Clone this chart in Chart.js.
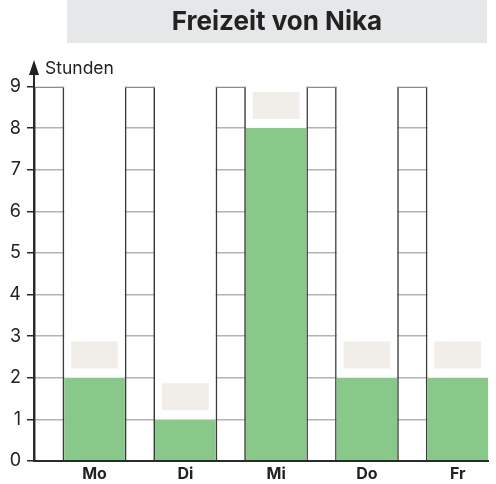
<!DOCTYPE html>
<html>
<head>
<meta charset="utf-8">
<script src="https://cdn.jsdelivr.net/npm/chart.js@4/dist/chart.umd.min.js"></script>
<style>
  html, body { margin: 0; padding: 0; background: #ffffff; }
  #wrap { width: 496px; height: 484px; }
</style>
</head>
<body>
<div id="wrap"><canvas id="c" width="496" height="484"></canvas></div>
<script>
const TITLE = 'Freizeit von Nika';
const Y_LABEL = 'Stunden';
const DAYS = ['Mo', 'Di', 'Mi', 'Do', 'Fr'];
const HOURS = [2, 1, 8, 2, 2];
const Y_TICKS = [0, 1, 2, 3, 4, 5, 6, 7, 8, 9];

const FONT = 'Inter, "Noto Sans", sans-serif';
const TOP = Y_TICKS[Y_TICKS.length - 1];

const decor = {
  id: 'decor',
  beforeDraw(chart) {
    const ctx = chart.ctx;
    ctx.save();
    ctx.fillStyle = '#ffffff';
    ctx.fillRect(0, 0, chart.width, chart.height);
    ctx.fillStyle = '#e6e7e9';
    ctx.fillRect(67, 0, 420, 43);
    ctx.fillStyle = '#222222';
    ctx.font = 'bold 26px ' + FONT;
    ctx.textAlign = 'center';
    ctx.textBaseline = 'middle';
    ctx.fillText(TITLE, 277, 22);
    ctx.restore();
  },
  afterDraw(chart) {
    const ctx = chart.ctx;
    const ys = chart.scales.y;
    const ax = ys.right;
    const top = chart.chartArea.top;
    ctx.save();
    ctx.fillStyle = '#222222';
    ctx.beginPath();
    ctx.moveTo(ax, top - 14);
    ctx.lineTo(ax - 5, top + 1);
    ctx.lineTo(ax + 5, top + 1);
    ctx.closePath();
    ctx.fill();
    ctx.font = '17.5px ' + FONT;
    ctx.textAlign = 'left';
    ctx.textBaseline = 'middle';
    ctx.fillText(Y_LABEL, ax + 11, top - 5);
    ctx.restore();
  }
};

const common = { grouped: false, categoryPercentage: 1 };

const data = {
  datasets: [
    Object.assign({
      label: 'bg',
      data: DAYS.map((d, i) => ({ x: i, y: TOP })),
      backgroundColor: '#ffffff',
      borderWidth: 0,
      barPercentage: 4 / 3,
      order: 5
    }, common),
    Object.assign({
      label: 'Stunden',
      data: HOURS.map((v, i) => ({ x: i, y: v })),
      backgroundColor: '#88c98a',
      borderWidth: 0,
      barPercentage: 4 / 3,
      order: 4
    }, common),
    Object.assign({
      label: 'boxes',
      data: HOURS.map((v, i) => ({ x: i, y: [v + 0.22, v + 0.87] })),
      backgroundColor: '#f1eee9',
      borderWidth: 0,
      barPercentage: 1.03,
      order: 3
    }, common),
    Object.assign({
      label: 'gapSides',
      data: DAYS.map((d, i) => ({ x: i - 0.5, y: TOP })),
      backgroundColor: 'rgba(0,0,0,0)',
      borderColor: '#3a3a3a',
      borderWidth: { left: 1.5, right: 1.5, top: 0, bottom: 0 },
      borderSkipped: false,
      barPercentage: 2 / 3,
      order: 2
    }, common),
    Object.assign({
      label: 'gapTop',
      data: DAYS.map((d, i) => ({ x: i - 0.5, y: TOP })),
      backgroundColor: 'rgba(0,0,0,0)',
      borderColor: '#8c8c8c',
      borderWidth: { left: 0, right: 0, top: 1.5, bottom: 0 },
      borderSkipped: false,
      barPercentage: 2 / 3,
      order: 1
    }, common)
  ]
};

new Chart(document.getElementById('c'), {
  type: 'bar',
  data: data,
  plugins: [decor],
  options: {
    responsive: false,
    animation: false,
    events: [],
    layout: { padding: { top: 74, right: 8, bottom: 0, left: 0 } },
    plugins: { legend: { display: false }, tooltip: { enabled: false }, title: { display: false } },
    scales: {
      x: {
        type: 'linear',
        min: -2 / 3,
        max: DAYS.length - 2 / 3,
        offset: false,
        afterBuildTicks: (s) => { s.ticks = DAYS.map((d, i) => ({ value: i })); },
        afterFit: (s) => { s.height = 23; },
        grid: { display: false, drawTicks: false },
        border: { display: true, color: '#2a2a2a', width: 2, z: 1 },
        ticks: {
          autoSkip: false,
          maxRotation: 0,
          padding: 4,
          color: '#222222',
          font: { family: FONT, size: 16, weight: 'bold' },
          callback: (v) => DAYS[Math.round(v)]
        }
      },
      y: {
        min: 0,
        max: 9.3,
        afterBuildTicks: (s) => { s.ticks = Y_TICKS.map(v => ({ value: v })); },
        afterFit: (s) => { s.width = 34; },
        grid: {
          color: (c) => (c.tick && c.tick.value === TOP) ? 'rgba(0,0,0,0)' : '#b4b4b4',
          lineWidth: 1.5,
          tickColor: '#2a2a2a',
          tickWidth: 1.5,
          tickLength: 7,
          drawTicks: true
        },
        border: { display: true, color: '#2a2a2a', width: 2, z: 1 },
        ticks: {
          padding: 6,
          color: '#222222',
          font: { family: FONT, size: 18 },
          callback: (v) => String(v)
        }
      }
    }
  }
});
</script>
</body>
</html>
